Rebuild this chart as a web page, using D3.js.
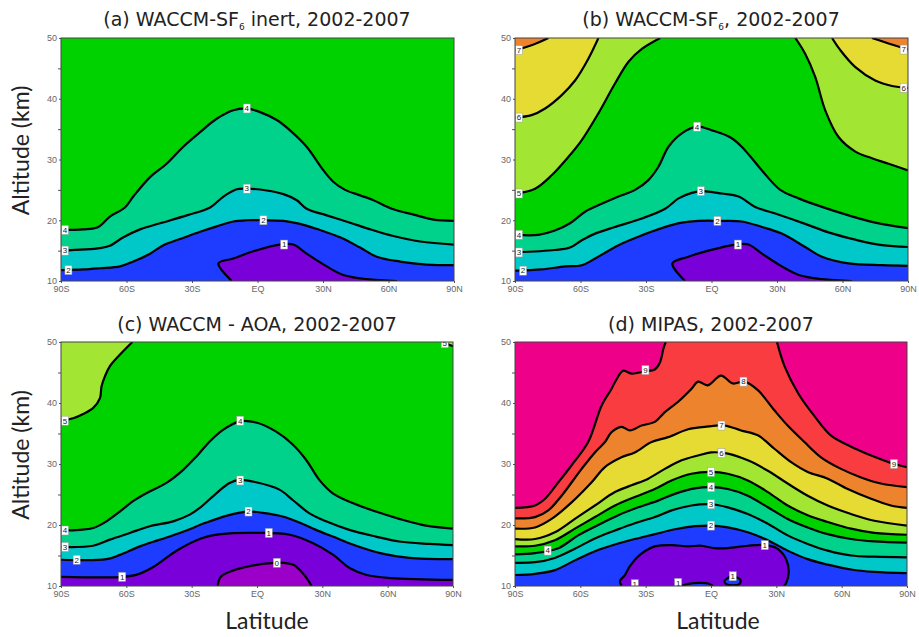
<!DOCTYPE html>
<html>
<head>
<meta charset="utf-8">
<script src="https://cdn.jsdelivr.net/npm/d3@7/dist/d3.min.js"></script>
<style>
    body { margin: 0; background: #fff; }
    svg { display: block; }
</style>
</head>
<body>
<div id="chart"></div>
<script>
// Axis ticks
const latTicks = [-90, -60, -30, 0, 30, 60, 90];
const latTickLabels = ['90S', '60S', '30S', 'EQ', '30N', '60N', '90N'];
const altTicks = [10, 20, 30, 40, 50];
const altMinorTicks = [15, 25, 35, 45];

// Colour of each age band, keyed by its lower bound (years)
const bandLows = [-1, 0, 1, 2, 3, 4, 5, 6, 7, 8, 9];
const bandColors = ['#9a00c8', '#7a00da', '#1e3cff', '#00c8c8', '#00d28c', '#00d200',
    '#a2e533', '#e5db33', '#ee832e', '#f83c40', '#ee0088'];

// Contour lines, [latitude, altitude km]
// (a) WACCM-SF6 inert
const a4 = [[-90,18.4],[-79.8,18.5],[-72.9,18.9],[-67.6,20.6],[-60.7,22.1],[-56.9,23.9],[-49.2,27.1],[-41.6,29.3],[-34,32.1],[-26.3,34.5],[-18.7,36.7],[-11.1,38.1],[-4.9,38.4],[1.2,37.8],[8.8,36.5],[14.9,34.8],[22.5,32.1],[30.2,28.2],[34.8,26.3],[40.1,25],[47,24.1],[53.1,23.3],[61.5,21.9],[72.9,20.8],[80.6,20.1],[90,19.9]];
const a3 = [[-90,15],[-72.1,15.4],[-67.6,15.8],[-61.4,17.2],[-53.8,18.5],[-44.6,19.5],[-32.4,20.8],[-21.7,22.1],[-15.6,23.9],[-9.5,25.1],[-4.9,25.2],[4.2,24.9],[11.9,24.3],[18,23.3],[22.5,21.9],[31.7,20.8],[42.4,19.6],[51.6,18.5],[62.2,17.4],[74.5,16.5],[90,16]];
const a2 = [[-90,11.8],[-79.8,11.9],[-72.1,12.1],[-63,12.4],[-56.9,13.2],[-49.2,14.5],[-43.1,15.9],[-35.5,16.9],[-26.3,18.1],[-18.7,19],[-11.1,19.8],[-4.9,20],[2.7,20],[11.9,19.9],[19.5,19.4],[28.6,18.4],[37.8,17.2],[47,15.5],[54.6,14],[65.3,13.2],[77.5,12.7],[90,12.6]];
const a1 = [[-11.8,10],[-17.9,12.9],[-11.1,13.7],[-1.9,14.9],[10.3,16],[16.4,16],[22.5,14.5],[31.7,12.4],[39.3,11],[50,10.3],[63.8,10]];
const labelsA = [['4',-88.2,18.4],['3',-88.2,15],['2',-86.6,11.8],['4',-4.9,38.4],['3',-4.9,25.2],['2',2.7,20],['1',12.2,16]];

// (b) WACCM-SF6
const b7L = [[-90,48],[-82.4,48.8],[-74.7,50]];
const b7R = [[73.5,50],[81.1,49.1],[90,48.1]];
const b6L = [[-90,36.9],[-82.4,37.3],[-76.2,38.4],[-68.6,40.6],[-62.5,43],[-56.4,46.6],[-51.8,50]];
const b6R = [[55.2,50],[59,48],[65.9,45.2],[75,43],[82.7,42.1],[90,41.8]];
const b5L = [[-90,24.4],[-80.8,25.2],[-73.2,27.4],[-65.6,30.4],[-59.4,33.2],[-51.8,37.6],[-44.2,42.5],[-38,46.1],[-31.9,48.2],[-23.5,50]];
const b5R = [[38.4,50],[42.9,47.4],[47.5,43.6],[52.1,38.1],[58.2,33.7],[65.9,31.3],[73.5,30.2],[81.1,29.3],[90,28.2]];
const b4 = [[-90,17.6],[-79.3,17.6],[-71.7,18.3],[-64.8,19.5],[-57.9,21.4],[-50.3,22.7],[-42.6,23.9],[-35,25],[-28.9,26.6],[-24.3,28.8],[-19.7,32.1],[-13.6,34.3],[-6.7,35.4],[0.2,34.8],[9.3,33.5],[15.4,31.5],[23.1,28.2],[31.5,25],[39.9,23.6],[50.6,22.2],[62.8,20.8],[75,19.6],[90,18.7]];
const b3 = [[-90,14.7],[-71.7,15.1],[-64.8,15.5],[-59.4,16.7],[-53.3,17.8],[-44.2,18.9],[-31.9,20.3],[-21.2,21.9],[-15.1,23.6],[-9,24.5],[-4.4,24.8],[4.7,24.4],[12.4,23.9],[20,22.2],[29.2,21.1],[42.9,19.4],[53.6,18],[65.9,16.8],[78.1,15.9],[90,15.6]];
const b2 = [[-90,11.7],[-77.8,11.9],[-67.1,12.4],[-59.4,12.6],[-53.3,13.7],[-42.6,15.9],[-33.5,17.3],[-22.8,18.7],[-13.6,19.6],[-6,19.9],[4.7,19.9],[13.9,19.8],[23.1,18.9],[32.2,17.8],[42.9,15.6],[50.6,14],[62.8,12.9],[78.1,12.6],[90,12.5]];
const b1 = [[-12.1,10],[-17.9,12.9],[-10.5,14],[-1.4,15],[10.8,16],[16.9,16],[23.1,14.5],[32.2,12.4],[39.9,11],[50.6,10.3],[64.3,10]];
const labelsB = [['7',-88.2,48],['6',-88.2,36.9],['5',-88.2,24.4],['4',-88.2,17.6],['3',-88.2,14.7],['2',-86.3,11.7],['7',88,48.1],['6',88,41.8],['4',-6.6,35.4],['3',-4.9,24.8],['2',2.7,19.9],['1',12.1,16]];

// (c) WACCM - AOA
const c5L = [[-90,37.1],[-84.4,37.5],[-79.8,38.2],[-75.2,39.2],[-72.1,40.8],[-71.4,42.7],[-69.8,44.4],[-67.6,46],[-63,47.9],[-57.2,50]];
const c5R = [[85,50],[88,49.6],[90,49.3]];
const c4 = [[-90,19.1],[-81.3,19.2],[-75.2,19.5],[-69.1,20.6],[-63,22.2],[-56.9,23.9],[-50.8,25.2],[-41.6,26.9],[-34,29],[-27.9,31.2],[-21.7,33.7],[-15.6,35.6],[-8,37],[-0.4,36.8],[8.8,35.3],[16.4,33.2],[22.5,30.7],[28.6,27.4],[34.8,25.2],[43.9,23.6],[54.6,22.2],[65.3,21],[77.5,19.9],[90,19.4]];
const c3 = [[-90,16.4],[-75.2,16.6],[-67.6,17.6],[-58.4,18.7],[-49.2,19.8],[-38.5,20.6],[-30.9,21.7],[-26.3,22.8],[-18.7,25.2],[-12.6,26.9],[-8,27.4],[-0.4,27],[10.3,25.8],[16.4,24.1],[24.1,21.9],[31.7,20.6],[42.4,19.2],[54.6,18.1],[65.3,17.3],[79,16.9],[90,16.7]];
const c2 = [[-90,14.3],[-69.1,14.4],[-63,15.1],[-53.8,16.5],[-44.6,17.6],[-34,18.9],[-23.3,20.4],[-14.1,21.5],[-5,22.2],[2.7,22],[11.8,21.4],[19.5,20.4],[27.1,19.2],[34.8,18.1],[45.5,16.6],[57.6,15.3],[69.9,14.6],[90,14.4]];
const c1 = [[-90,11.5],[-72,11.4],[-61.4,11.5],[-54.8,11.9],[-47.2,13.2],[-36.4,15.9],[-25.7,17.8],[-16.5,18.5],[-0.2,18.7],[15.1,18.4],[25.8,17],[35,15.1],[42.7,12.9],[50.3,11.8],[61,11.3],[90,11]];
const c0 = [[-18.1,10],[-16.6,11.5],[-10.5,12.6],[-2.8,13.3],[4.9,13.7],[12.5,13.8],[17.1,13.4],[21.7,11.8],[25.1,10]];
const labelsC = [['5',-88.2,37.1],['4',-88.2,19.1],['3',-88.2,16.4],['2',-82.8,14.3],['1',-61.9,11.5],['4',-7.7,37.1],['3',-7.7,27.3],['2',-3.9,22.2],['1',5.4,18.7],['0',9.1,13.8],['5',86.2,49.8]];

// (d) MIPAS
const mip9L = [[-90,22.8],[-80.8,23.2],[-76.2,24.3],[-70.1,27],[-64,29.8],[-56.4,33.6],[-50.2,39.6],[-45.7,42.3],[-44.1,43.4],[-40.3,45.3],[-36.5,44.8],[-30.4,45.2],[-25.8,45.5],[-23.5,46.6],[-21.8,49],[-20.8,50]];
const mip9R = [[30.3,50],[33.8,46],[40,41.6],[47.6,37.8],[55.3,34.6],[65.8,32.6],[75,31.2],[84.2,30],[90,29.5]];
const mip8 = [[-90,21.1],[-80.8,21.3],[-74.7,22.4],[-68.6,24.8],[-59.4,29.2],[-53.3,31.9],[-48.7,33.6],[-45.7,35.2],[-41.1,36.1],[-37.2,35.5],[-31.9,36.3],[-25.8,36.9],[-21.2,38.5],[-15.1,40.2],[-9,42.3],[-5.9,43.5],[-1.5,42.9],[4.6,44.5],[10,43.2],[15.4,43.5],[21.5,42.1],[29.1,38.8],[35.2,36.3],[42.9,33.6],[50.5,31.1],[59.7,29.2],[68.9,27.8],[78,26.8],[90,26.2]];
const mip7 = [[-90,19.4],[-80.8,19.6],[-73.2,21],[-64,23.7],[-54.8,27],[-48.7,29.5],[-41.1,31.1],[-35,31.9],[-27.3,33.6],[-19.7,34.4],[-10.5,35.7],[-2.8,36.1],[6.2,36.3],[13.8,35.5],[21.5,34.7],[29.1,32.5],[36.8,30.3],[44.4,28.7],[53.6,27.6],[62.8,25.9],[73.5,24.3],[82.6,23.2],[90,22.8]];
const mip6 = [[-90,17.7],[-80.8,17.7],[-71.7,18.8],[-62.5,21],[-53.3,23.2],[-44.1,25.4],[-36.5,26.5],[-28.8,27.6],[-21.2,29.2],[-13.5,30.6],[-5.9,31.4],[0,31.9],[7.7,31.7],[16.9,30.6],[26.1,28.9],[35.2,26.8],[44.4,24.8],[53.6,23.2],[64.3,21.8],[75,20.7],[90,19.9]];
const mip5 = [[-90,16.5],[-80.8,16.6],[-71.7,17.5],[-62.5,19.4],[-53.3,21.3],[-44.1,23.2],[-35,24.6],[-25.8,25.9],[-18.1,27.3],[-9,28.4],[0,28.7],[7.7,28.4],[16.9,27.3],[26.1,25.4],[35.2,23.2],[44.4,21.6],[53.6,20.5],[64.3,19.4],[75,18.7],[90,18.4]];
const mip4 = [[-90,15.2],[-80.8,15.4],[-70.1,16.2],[-61,18.3],[-51.8,20],[-42.6,21.6],[-33.4,22.9],[-24.3,24],[-16.6,25.1],[-7.4,26],[0,26.2],[7.7,25.9],[16.9,24.8],[26.1,22.9],[35.2,21],[44.4,19.6],[53.6,18.5],[64.3,17.7],[75,17.3],[90,17.1]];
const mip3 = [[-90,13.8],[-80.8,13.9],[-71.7,14.6],[-62.5,16.1],[-53.3,17.8],[-44.1,19.1],[-35,20.3],[-25.8,21.3],[-18.1,22.4],[-9,23.2],[0,23.4],[7.7,22.9],[16.9,21.8],[26.1,20.2],[35.2,18.3],[44.4,16.9],[53.6,15.8],[64.3,15],[75,14.8],[90,14.7]];
const mip2 = [[-90,11.8],[-80.8,12],[-71.7,12.6],[-62.5,14.2],[-53.3,15.7],[-44.1,16.8],[-35,17.7],[-25.8,18.5],[-16.6,19.3],[-7.4,19.8],[0,19.9],[7.7,19.6],[16.9,18.8],[26.1,17.5],[35.2,15.8],[44.4,14.4],[53.6,13.5],[64.3,12.7],[75,12.3],[90,12.1]];
const mip1 = [[-41,10],[-41.8,10.8],[-39.5,11.8],[-37.3,13.2],[-34.2,14.6],[-30.4,15.7],[-25.8,16.5],[-18.1,16.7],[-10.5,16.5],[-4.4,16.6],[1.5,16.2],[7.7,16.2],[16.9,16.6],[25.3,16.7],[30.6,16.1],[34.5,14.4],[35.7,12.3],[34.5,10.5],[33.5,10]];
const mip1Gap = [[-13.5,10],[-10.5,10.35],[-4.4,10.5],[-1.3,10.4],[1,10]];
const mip1Loop = [[6,10.8],[8,11.4],[11,11.5],[13.5,11],[13,10.3],[10,10.1],[7,10.3],[6,10.8]];
const labelsD = [['9',-30.1,45.4],['8',14.9,43.5],['7',4.8,36.3],['6',4.8,31.8],['5',0,28.7],['4',0,26.2],['3',0,23.4],['2',0,19.9],['1',24.7,16.7],['9',84,30],['4',-75,15.8],['1',-35,10.3],['1',-15.1,10.5],['1',10,11.6]];

const width = 919;
const height = 637;

const svg = d3.select('#chart')
    .append('svg')
    .attr('width', width)
    .attr('height', height)
    .style('font-family', '"Liberation Sans", Arial, sans-serif');

const panels = [
    { id: 'a', left: 61, top: 38, w: 393, h: 243, title: ['(a) WACCM-SF', '6', ' inert, 2002-2007'], titleX: 257, titleY: 26,
      topBand: 4,
      contours: [{ level: 4, pieces: [a4] }, { level: 3, pieces: [a3] }, { level: 2, pieces: [a2] }, { level: 1, pieces: [a1] }],
      labels: labelsA },
    { id: 'b', left: 515, top: 38, w: 393, h: 243, title: ['(b) WACCM-SF', '6', ', 2002-2007'], titleX: 711, titleY: 26,
      topBand: 7,
      contours: [{ level: 7, pieces: [b7L, b7R] }, { level: 6, pieces: [b6L, b6R] }, { level: 5, pieces: [b5L, b5R] },
                 { level: 4, pieces: [b4] }, { level: 3, pieces: [b3] }, { level: 2, pieces: [b2] }, { level: 1, pieces: [b1] }],
      labels: labelsB },
    { id: 'c', left: 61, top: 342, w: 392, h: 244, title: ['(c) WACCM - AOA, 2002-2007'], titleX: 257, titleY: 331,
      topBand: 5,
      contours: [{ level: 5, pieces: [c5L, c5R] }, { level: 4, pieces: [c4] }, { level: 3, pieces: [c3] },
                 { level: 2, pieces: [c2] }, { level: 1, pieces: [c1] }, { level: 0, pieces: [c0] }],
      labels: labelsC, xLabel: 267 },
    { id: 'd', left: 515, top: 342, w: 392, h: 244, title: ['(d) MIPAS, 2002-2007'], titleX: 711, titleY: 331,
      topBand: 9,
      contours: [{ level: 9, pieces: [mip9L, mip9R] }, { level: 8, pieces: [mip8] }, { level: 7, pieces: [mip7] },
                 { level: 6, pieces: [mip6] }, { level: 5, pieces: [mip5] }, { level: 4, pieces: [mip4] },
                 { level: 3, pieces: [mip3] }, { level: 2, pieces: [mip2] }, { level: 1, pieces: [mip1] },
                 { level: 1, pieces: [mip1Gap], hole: true }, { level: 1, pieces: [mip1Loop], hole: true, closed: true }],
      labels: labelsD, xLabel: 718 }
];

function bandColor(low) {
    return bandColors[bandLows.indexOf(low)];
}

function drawPanel(p) {
    const g = svg.append('g').attr('transform', `translate(${p.left},${p.top})`);

    const x = d3.scaleLinear().domain([-90, 90]).range([0, p.w]);
    const y = d3.scaleLinear().domain([10, 50]).range([p.h, 0]);

    const line = d3.line()
        .x(d => x(d[0]))
        .y(d => y(d[1]))
        .curve(d3.curveCatmullRom.alpha(0.5));

    // Region below a contour, closed along the plot edges
    function fillPath(c) {
        let path = '';
        c.pieces.forEach((piece, i) => {
            const s = line(piece);
            path += i === 0 ? s : 'L' + s.slice(1);
        });
        if (c.closed) return path + 'Z';
        const first = c.pieces[0][0];
        const lastPiece = c.pieces[c.pieces.length - 1];
        const last = lastPiece[lastPiece.length - 1];
        const corners = [];
        if (last[1] >= 50 && last[0] < 90) corners.push([90, 50]);
        corners.push([90, 10], [-90, 10]);
        if (first[1] >= 50 && first[0] > -90) corners.push([-90, 50]);
        corners.forEach(q => { path += `L${x(q[0])},${y(q[1])}`; });
        return path + 'Z';
    }

    const clipId = 'clip-' + p.id;
    g.append('clipPath').attr('id', clipId)
        .append('rect').attr('width', p.w).attr('height', p.h);

    const plot = g.append('g').attr('clip-path', `url(#${clipId})`);

    plot.append('rect')
        .attr('width', p.w)
        .attr('height', p.h)
        .attr('fill', bandColor(p.topBand));

    // Filled bands, painted from the oldest air down
    plot.selectAll('path.band')
        .data(p.contours)
        .enter()
        .append('path')
        .attr('class', 'band')
        .attr('d', fillPath)
        .attr('fill', c => bandColor(c.hole ? c.level : c.level - 1));

    // Contour lines
    const pieces = [];
    p.contours.forEach(c => c.pieces.forEach(pc => pieces.push(pc)));
    plot.selectAll('path.contour')
        .data(pieces)
        .enter()
        .append('path')
        .attr('class', 'contour')
        .attr('d', line)
        .attr('fill', 'none')
        .attr('stroke', '#000')
        .attr('stroke-width', 2.2)
        .attr('stroke-linejoin', 'round');

    // Contour labels
    const lab = plot.selectAll('g.lab')
        .data(p.labels)
        .enter()
        .append('g')
        .attr('class', 'lab')
        .attr('transform', d => `translate(${x(d[1])},${y(d[2])})`);
    lab.append('rect')
        .attr('x', -3.5).attr('y', -4.5)
        .attr('width', 7).attr('height', 9)
        .attr('fill', '#fff')
        .attr('stroke', '#999')
        .attr('stroke-width', 0.5);
    lab.append('text')
        .attr('text-anchor', 'middle')
        .attr('dy', '0.35em')
        .style('font-size', '8px')
        .attr('fill', '#222')
        .text(d => d[0]);

    // Axes
    const xAxis = g.append('g')
        .attr('transform', `translate(0,${p.h})`)
        .call(d3.axisBottom(x).tickValues(latTicks).tickFormat((d, i) => latTickLabels[i]).tickSize(2).tickPadding(3));
    const yAxis = g.append('g')
        .call(d3.axisLeft(y).tickValues(altTicks).tickFormat(d3.format('d')).tickSize(2).tickPadding(2));
    const yMinor = g.append('g')
        .call(d3.axisLeft(y).tickValues(altMinorTicks).tickFormat('').tickSize(3));
    [xAxis, yAxis, yMinor].forEach(a => {
        a.select('.domain').remove();
        a.selectAll('line').attr('stroke', '#555');
        a.selectAll('text').attr('fill', '#666').style('font-size', '9px');
    });

    // Plot frame
    g.append('rect')
        .attr('width', p.w)
        .attr('height', p.h)
        .attr('fill', 'none')
        .attr('stroke', '#444')
        .attr('stroke-width', 1);

    // Title
    const t = svg.append('text')
        .attr('x', p.titleX)
        .attr('y', p.titleY)
        .attr('text-anchor', 'middle')
        .attr('fill', '#222')
        .style('font-family', '"DejaVu Sans", sans-serif')
        .style('font-size', '19px');
    t.append('tspan').text(p.title[0]);
    if (p.title.length > 1) {
        t.append('tspan').attr('dy', 4).style('font-size', '9px').text(p.title[1]);
        t.append('tspan').attr('dy', -4).text(p.title[2]);
    }

    // Axis titles
    if (p.left < 100) {
        svg.append('text')
            .attr('transform', `translate(29,${p.top + p.h / 2 - 9}) rotate(-90)`)
            .attr('text-anchor', 'middle')
            .attr('fill', '#222')
            .style('font-family', 'Lato, "Open Sans", sans-serif')
            .style('font-size', '23px')
            .text('Altitude (km)');
    }
    if (p.xLabel) {
        svg.append('text')
            .attr('x', p.xLabel)
            .attr('y', 629)
            .attr('text-anchor', 'middle')
            .attr('fill', '#222')
            .style('font-family', 'Lato, "Open Sans", sans-serif')
            .style('font-size', '23px')
            .text('Latitude');
    }
}

panels.forEach(drawPanel);
</script>
</body>
</html>
